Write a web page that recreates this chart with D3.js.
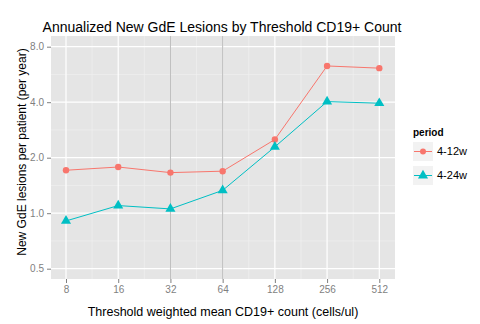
<!DOCTYPE html>
<html><head><meta charset="utf-8">
<script src="https://cdn.jsdelivr.net/npm/d3@7"></script>
<style>body{margin:0;background:#fff}svg{display:block}text{font-family:"Liberation Sans",Arial,sans-serif}</style>
</head><body>
<svg id="c" width="480" height="324"></svg>
<script>
const thresholds = [8, 16, 32, 64, 128, 256, 512];
const series = ["4-12w", "4-24w"];
const values412 = [1.71, 1.78, 1.66, 1.69, 2.51, 6.29, 6.12];
const values424 = [0.908, 1.10, 1.055, 1.33, 2.29, 4.03, 3.95];
const yTicks = [0.5, 1.0, 2.0, 4.0, 8.0];
const vlines = [32, 64];

const svg = d3.select("#c");
const P = {l: 51, r: 395, t: 36, b: 279};
const x = d3.scaleLog().base(2).domain([8 / Math.pow(2, 15/52.2), 512 * Math.pow(2, 15.7/52.2)]).range([P.l, P.r]);
const y = d3.scaleLog().base(2).domain([0.5 / Math.pow(2, 10.3/55.5), 8 * Math.pow(2, 10.7/55.5)]).range([P.b, P.t]);
const colors = {"4-12w": "#F8766D", "4-24w": "#00BFC4"};

svg.append("rect").attr("x", P.l).attr("y", P.t).attr("width", P.r - P.l).attr("height", P.b - P.t).attr("fill", "#E5E5E5");

// minor grid
const xMinor = thresholds.slice(0, -1).map(d => d * Math.SQRT2);
const yMinor = yTicks.slice(0, -1).map(d => d * Math.SQRT2);
const g = svg.append("g");
xMinor.forEach(d => g.append("line").attr("x1", x(d)).attr("x2", x(d)).attr("y1", P.t).attr("y2", P.b).attr("stroke", "#F2F2F2").attr("stroke-width", 0.6));
yMinor.forEach(d => g.append("line").attr("y1", y(d)).attr("y2", y(d)).attr("x1", P.l).attr("x2", P.r).attr("stroke", "#F2F2F2").attr("stroke-width", 0.6));
thresholds.forEach(d => g.append("line").attr("x1", x(d)).attr("x2", x(d)).attr("y1", P.t).attr("y2", P.b).attr("stroke", "#fff").attr("stroke-width", 1.2));
yTicks.forEach(d => g.append("line").attr("y1", y(d)).attr("y2", y(d)).attr("x1", P.l).attr("x2", P.r).attr("stroke", "#fff").attr("stroke-width", 1.2));
vlines.forEach(d => g.append("line").attr("x1", x(d)).attr("x2", x(d)).attr("y1", P.t).attr("y2", P.b).attr("stroke", "#A8A8A8").attr("stroke-width", 0.8));

// axes
const xa = svg.append("g").attr("transform", `translate(0,${P.b})`)
  .call(d3.axisBottom(x).tickValues(thresholds).tickFormat(d3.format("d")).tickSize(4).tickPadding(3));
const ya = svg.append("g").attr("transform", `translate(${P.l},0)`)
  .call(d3.axisLeft(y).tickValues(yTicks).tickFormat(d3.format(".1f")).tickSize(4).tickPadding(3));
[xa, ya].forEach(a => {
  a.select(".domain").remove();
  a.selectAll(".tick line").attr("stroke", "#7F7F7F");
  a.selectAll(".tick text").attr("fill", "#7F7F7F").style("font-size", "10px");
});

// lines and points
const data = {"4-12w": values412, "4-24w": values424};
const line = d3.line().x((d, i) => x(thresholds[i])).y(d => y(d));
series.forEach(s => {
  svg.append("path").datum(data[s]).attr("d", line).attr("fill", "none").attr("stroke", colors[s]).attr("stroke-width", 1);
});
svg.selectAll(".pt1").data(values412).enter().append("circle")
  .attr("cx", (d, i) => x(thresholds[i])).attr("cy", d => y(d)).attr("r", 3.2).attr("fill", colors["4-12w"]);
const tri = d3.symbol().type(d3.symbolTriangle).size(44);
svg.selectAll(".pt2").data(values424).enter().append("path")
  .attr("d", tri).attr("transform", (d, i) => `translate(${x(thresholds[i])},${y(d)})`).attr("fill", colors["4-24w"]);

// titles
svg.append("text").attr("x", 222).attr("y", 32).attr("text-anchor", "middle").style("font-size", "14px").attr("fill", "#000")
  .text("Annualized New GdE Lesions by Threshold CD19+ Count");
svg.append("text").attr("x", 223).attr("y", 316).attr("text-anchor", "middle").style("font-size", "12.5px").attr("fill", "#000")
  .text("Threshold weighted mean CD19+ count (cells/ul)");
svg.append("text").attr("transform", "translate(26,152) rotate(-90)").attr("text-anchor", "middle").style("font-size", "12px").attr("fill", "#000")
  .text("New GdE lesions per patient (per year)");

// legend
const L = svg.append("g");
L.append("text").attr("x", 413).attr("y", 136).style("font-size", "10px").style("font-weight", "bold").text("period");
series.forEach((s, i) => {
  const yy = 142 + i * 24;
  L.append("rect").attr("x", 413).attr("y", yy).attr("width", 20).attr("height", 19).attr("fill", "#F2F2F2");
  L.append("line").attr("x1", 414).attr("x2", 432).attr("y1", yy + 9.5).attr("y2", yy + 9.5).attr("stroke", colors[s]).attr("stroke-width", 1);
  if (i === 0) L.append("circle").attr("cx", 423).attr("cy", yy + 9.5).attr("r", 3).attr("fill", colors[s]);
  else L.append("path").attr("d", tri).attr("transform", `translate(423,${yy + 9.5})`).attr("fill", colors[s]);
  L.append("text").attr("x", 437).attr("y", yy + 13).style("font-size", "11px").attr("fill", "#000").text(s);
});
</script>
</body></html>
